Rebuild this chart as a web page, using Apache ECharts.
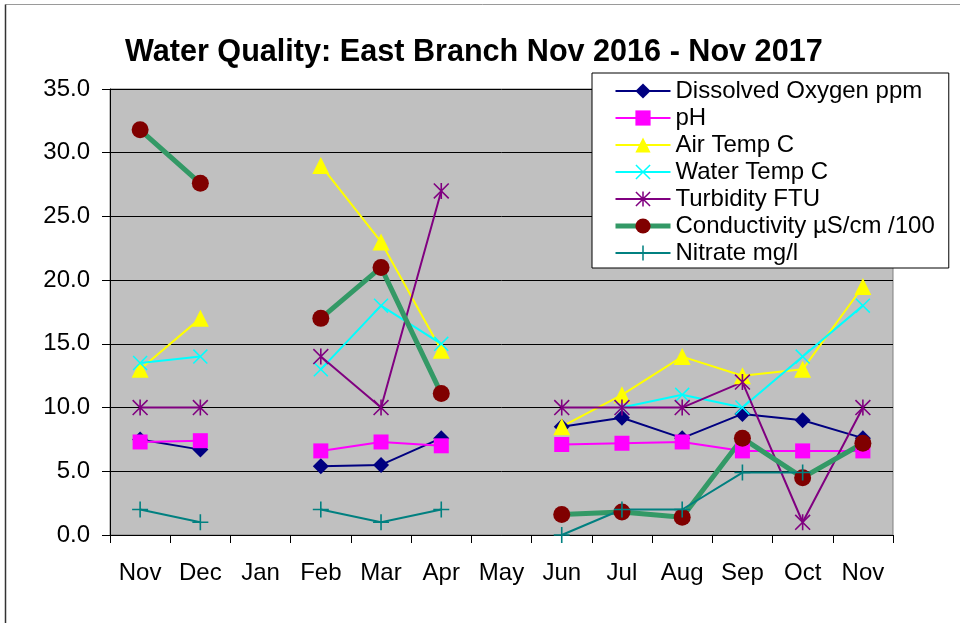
<!DOCTYPE html>
<html>
<head>
<meta charset="utf-8">
<title>Water Quality: East Branch</title>
<script src="https://cdn.jsdelivr.net/npm/echarts@6/dist/echarts.min.js"></script>
<style>
  html, body { margin: 0; padding: 0; background: #fff; }
  #chart { width: 960px; height: 623px; }
</style>
</head>
<body>
<div id="chart"></div>
<script>
const months = ["Nov", "Dec", "Jan", "Feb", "Mar", "Apr", "May", "Jun", "Jul", "Aug", "Sep", "Oct", "Nov"];

const dissolvedOxygen = [7.5, 6.7, null, 5.4, 5.5, 7.6, null, 8.5, 9.2, 7.6, 9.5, 9.0, 7.6];
const ph = [7.3, 7.4, null, 6.6, 7.3, 7.0, null, 7.1, 7.2, 7.3, 6.6, 6.6, 6.6];
const airTemp = [13, 17, null, 29, 23, 14.5, null, 8.5, 11, 14, 12.5, 13, 19.5];
const waterTemp = [13.5, 14, null, 13, 18, 15, null, null, 10, 11, 10, 14, 18];
const turbidity = [10, 10, null, 14, 10, 27, null, 10, 10, 10, 12, 1, 10];
const conductivity = [31.8, 27.6, null, 17, 21, 11.1, null, 1.6, 1.8, 1.4, 7.6, 4.5, 7.2];
const nitrate = [2, 1, null, 2, 1, 2, null, 0, 2, 2, 4.9, 4.9, null];

// marker shapes, all sub-paths wound the same way so they fill as a union
const xMark = "path://M1.4,0 L20,18.6 L18.6,20 L0,1.4 Z M18.6,0 L20,1.4 L1.4,20 L0,18.6 Z";
const starMark = "path://M9,0 L11,0 L11,20 L9,20 Z M1.4,0 L20,18.6 L18.6,20 L0,1.4 Z M18.6,0 L20,1.4 L1.4,20 L0,18.6 Z";
const plusMark = "path://M9,0 L11,0 L11,20 L9,20 Z M0,9 L20,9 L20,11 L0,11 Z";

const font = "'Liberation Sans', Arial, sans-serif";

function lineSeries(name, data, color, symbol, size, width, markColor) {
  return {
    name,
    type: "line",
    data,
    symbol,
    symbolSize: size,
    showSymbol: true,
    connectNulls: false,
    lineStyle: { color, width },
    itemStyle: { color: markColor || color, borderWidth: 0 },
    emphasis: { disabled: true },
    z: 2
  };
}

const series = [
  lineSeries("Dissolved Oxygen ppm", dissolvedOxygen, "#000080", "diamond", 16, 2),
  lineSeries("pH", ph, "#ff00ff", "rect", 15, 2),
  lineSeries("Air Temp C", airTemp, "#ffff00", "triangle", 17, 2),
  lineSeries("Water Temp C", waterTemp, "#00ffff", xMark, 15, 2),
  lineSeries("Turbidity FTU", turbidity, "#800080", starMark, 16, 2),
  lineSeries("Conductivity µS/cm /100", conductivity, "#339966", "circle", 17, 5, "#800000"),
  lineSeries("Nitrate mg/l", nitrate, "#008080", plusMark, 16, 2)
];

const chart = echarts.init(document.getElementById("chart"), null, { renderer: "canvas" });

chart.setOption({
  animation: false,
  backgroundColor: "#ffffff",
  textStyle: { fontFamily: font },
  title: {
    text: "Water Quality: East Branch Nov 2016 - Nov 2017",
    left: 120,
    top: 32,
    textStyle: { fontFamily: font, fontSize: 30.6, fontWeight: "bold", color: "#000" }
  },
  graphic: [
    { type: "line", shape: { x1: 5.5, y1: 4.5, x2: 960, y2: 4.5 }, style: { stroke: "#9a9a9a", lineWidth: 1 } },
    { type: "line", shape: { x1: 5.5, y1: 4.5, x2: 5.5, y2: 623 }, style: { stroke: "#333", lineWidth: 1.5 } }
  ],
  legend: {
    orient: "vertical",
    left: 592,
    top: 73,
    backgroundColor: "#ffffff",
    borderColor: "#000",
    borderWidth: 1,
    padding: [6, 14, 3, 21],
    itemWidth: 55,
    itemHeight: 19,
    itemGap: 3,
    textStyle: { fontFamily: font, fontSize: 24, color: "#000", lineHeight: 24 },
    data: series.map((s) => ({
      name: s.name,
      lineStyle: { width: s.lineStyle.width }
    }))
  },
  grid: {
    left: 110,
    right: 67,
    top: 89,
    bottom: 88,
    show: true,
    backgroundColor: "#c0c0c0",
    borderColor: "#808080",
    borderWidth: 1
  },
  xAxis: {
    type: "category",
    data: months,
    boundaryGap: true,
    axisLine: { lineStyle: { color: "#000", width: 1 } },
    axisTick: { show: true, length: 8, inside: false, lineStyle: { color: "#000" } },
    axisLabel: { fontFamily: font, fontSize: 24, color: "#000", margin: 26, interval: 0 },
    splitLine: { show: false }
  },
  yAxis: {
    type: "value",
    min: 0,
    max: 35,
    interval: 5,
    axisLine: { show: true, lineStyle: { color: "#000", width: 1 } },
    axisTick: { show: true, length: 8, lineStyle: { color: "#000" } },
    axisLabel: {
      fontFamily: font,
      fontSize: 24,
      color: "#000",
      margin: 20,
      formatter: (v) => v.toFixed(1)
    },
    splitLine: { show: true, lineStyle: { color: "#000", width: 1 } }
  },
  series
});
</script>
</body>
</html>
